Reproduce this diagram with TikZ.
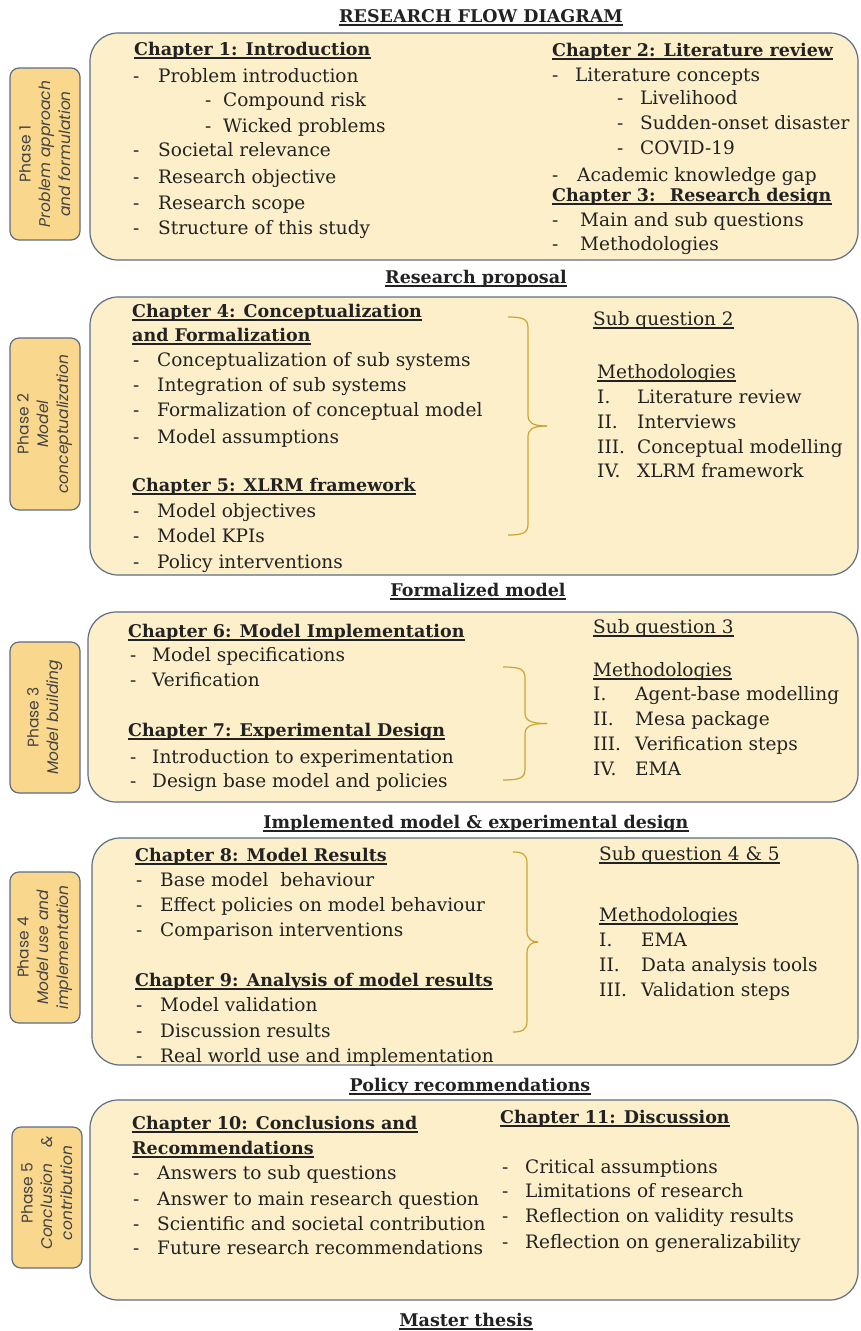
\documentclass[tikz,border=0pt]{standalone}
\usepackage{fontspec}
\setmainfont{DejaVu Serif}
\newfontfamily\phasefont{Poppins}
\usetikzlibrary{fit}
\definecolor{boxfill}{HTML}{FDEFCA}
\definecolor{labfill}{HTML}{F9D88E}
\definecolor{edge}{HTML}{5E6E82}
\definecolor{ink}{HTML}{222222}
\definecolor{bracecol}{HTML}{C9A634}
\tikzset{
  mainbox/.style={draw=edge, fill=boxfill, line width=1.2pt, rounded corners=28pt, inner sep=0pt},
  phasebox/.style={draw=edge, fill=labfill, line width=1.2pt, rounded corners=9pt, inner sep=0pt},
  txt/.style={anchor=base west, inner sep=0pt, text=ink, font=\fontsize{18.5}{22}\selectfont},
  head/.style={txt, font=\bfseries\fontsize{17.5}{22}\selectfont},
  captxt/.style={anchor=base, inner sep=0pt, text=ink, font=\bfseries\fontsize{17.5}{22}\selectfont},
  phasetxt/.style={rotate=90, align=center, text=ink!85, inner sep=0pt,
    font=\phasefont\fontsize{15.5}{20}\selectfont},
  bracket/.style={draw=bracecol, line width=1.2pt},
  uline/.style={draw=ink, line width=1.1pt},
}
% underline below a text node
\newcommand\ulof[1]{\draw[uline] ([yshift=-3pt]#1.base west) -- ([yshift=-3pt]#1.base east);}
% heading: name, x, baseline y, text
\newcommand\hd[4]{\node[head] (#1) at (#2,#3) {#4}; \ulof{#1}}
% list line: name, marker x, text x, baseline y, marker, text
\newcommand\itm[6]{\node[txt] (#1m) at (#2,#4) {#5}; \node[txt] (#1) at (#3,#4) {#6};}
% underlined plain label: name, x, y, text
\newcommand\sq[4]{\node[txt] (#1) at (#2,#3) {#4}; \ulof{#1}}
% centred underlined caption between two phases: name, x, y, text
\newcommand\capt[4]{\node[captxt] (#1) at (#2,#3) {#4}; \ulof{#1}}
% right curly bracket: name, outer x, spine x, tip x, top y, bottom y
\newcommand\brc[6]{%
  \coordinate (#1top) at (#2,#5);
  \coordinate (#1bot) at (#2,#6);
  \coordinate (#1tip) at (#4,{(#5+#6)/2});
  \draw[bracket] (#1top) .. controls (#3-5,#5) and (#3,#5+2) .. (#3,#5+11)
    -- (#3,{(#5+#6)/2-11}) .. controls (#3,{(#5+#6)/2-3}) and (#3+5,{(#5+#6)/2}) .. (#1tip);
  \draw[bracket] (#1bot) .. controls (#3-5,#6) and (#3,#6-2) .. (#3,#6-11)
    -- (#3,{(#5+#6)/2+11}) .. controls (#3,{(#5+#6)/2+3}) and (#3+5,{(#5+#6)/2}) .. (#1tip);
}
\begin{document}
\begin{tikzpicture}[x=1pt,y=-1pt]
\useasboundingbox (0,0) rectangle (860,1331);
\fill[white] (0,0) rectangle (860,1331);

\capt{title}{481}{22}{RESEARCH FLOW DIAGRAM}

% ---------------- Phase 1 ----------------
\node[mainbox, fit={(90,33) (858,260)}] (box1) {};
\node[phasebox, fit={(10,68) (80,240)}] (lab1) {};
\node[phasetxt] (lab1t) at (lab1.center) {Phase 1\\\textit{Problem approach}\\\textit{and formulation}};

\hd{c1}{134}{55}{Chapter 1: Introduction}
\itm{c1a}{133}{158}{82}{-}{Problem introduction}
\itm{c1b}{205}{223}{106}{-}{Compound risk}
\itm{c1c}{205}{223}{132}{-}{Wicked problems}
\itm{c1d}{133}{158}{156}{-}{Societal relevance}
\itm{c1e}{133}{158}{183}{-}{Research objective}
\itm{c1f}{133}{158}{209}{-}{Research scope}
\itm{c1g}{133}{158}{234}{-}{Structure of this study}

\hd{c2}{552}{56}{Chapter 2: Literature review}
\itm{c2a}{552}{575}{81}{-}{Literature concepts}
\itm{c2b}{617}{640}{104}{-}{Livelihood}
\itm{c2c}{617}{640}{129}{-}{Sudden-onset disaster}
\itm{c2d}{617}{640}{154}{-}{COVID-19}
\itm{c2e}{552}{577}{181}{-}{Academic knowledge gap}
\hd{c3}{552}{201}{Chapter 3: \ Research design}
\itm{c3a}{552}{580}{226}{-}{Main and sub questions}
\itm{c3b}{552}{580}{250}{-}{Methodologies}

\capt{out1}{476}{283}{Research proposal}

% ---------------- Phase 2 ----------------
\node[mainbox, fit={(90,297) (858,575)}] (box2) {};
\node[phasebox, fit={(10,338) (80,510)}] (lab2) {};
\node[phasetxt] (lab2t) at (lab2.center) {Phase 2\\\textit{Model}\\\textit{conceptualization}};

\hd{c4}{132}{317}{Chapter 4: Conceptualization}
\hd{c4x}{132}{341}{and Formalization}
\itm{c4a}{133}{157}{366}{-}{Conceptualization of sub systems}
\itm{c4b}{133}{157}{391}{-}{Integration of sub systems}
\itm{c4c}{133}{157}{416}{-}{Formalization of conceptual model}
\itm{c4d}{133}{157}{443}{-}{Model assumptions}
\hd{c5}{132}{491}{Chapter 5: XLRM framework}
\itm{c5a}{133}{157}{517}{-}{Model objectives}
\itm{c5b}{133}{157}{542}{-}{Model KPIs}
\itm{c5c}{133}{157}{568}{-}{Policy interventions}

\brc{br2}{508}{528}{547}{317}{535}
\sq{sq2}{593}{325}{Sub question 2}
\sq{me2}{597}{378}{Methodologies}
\itm{m2a}{597}{637}{403}{I.}{Literature review}
\itm{m2b}{597}{637}{428}{II.}{Interviews}
\itm{m2c}{597}{637}{453}{III.}{Conceptual modelling}
\itm{m2d}{597}{637}{477}{IV.}{XLRM framework}

\capt{out2}{478}{596}{Formalized model}

% ---------------- Phase 3 ----------------
\node[mainbox, fit={(88,612) (858,802)}] (box3) {};
\node[phasebox, fit={(10,642) (80,793)}] (lab3) {};
\node[phasetxt] (lab3t) at (lab3.center) {Phase 3\\\textit{Model building}};

\hd{c6}{128}{637}{Chapter 6: Model Implementation}
\itm{c6a}{130}{152}{661}{-}{Model specifications}
\itm{c6b}{130}{152}{686}{-}{Verification}
\hd{c7}{128}{736}{Chapter 7: Experimental Design}
\itm{c7a}{130}{152}{763}{-}{Introduction to experimentation}
\itm{c7b}{130}{152}{787}{-}{Design base model and policies}

\brc{br3}{503}{525}{547}{667}{780}
\sq{sq3}{593}{633}{Sub question 3}
\sq{me3}{593}{676}{Methodologies}
\itm{m3a}{593}{635}{700}{I.}{Agent-base modelling}
\itm{m3b}{593}{635}{725}{II.}{Mesa package}
\itm{m3c}{593}{635}{750}{III.}{Verification steps}
\itm{m3d}{593}{635}{775}{IV.}{EMA}

\capt{out3}{476}{828}{Implemented model \& experimental design}

% ---------------- Phase 4 ----------------
\node[mainbox, fit={(92,838) (858,1065)}] (box4) {};
\node[phasebox, fit={(10,872) (80,1023)}] (lab4) {};
\node[phasetxt] (lab4t) at (lab4.center) {Phase 4\\\textit{Model use and}\\\textit{implementation}};

\hd{c8}{135}{861}{Chapter 8: Model Results}
\itm{c8a}{136}{160}{886}{-}{Base model\ \ behaviour}
\itm{c8b}{136}{160}{911}{-}{Effect policies on model behaviour}
\itm{c8c}{136}{160}{936}{-}{Comparison interventions}
\hd{c9}{135}{986}{Chapter 9: Analysis of model results}
\itm{c9a}{136}{160}{1011}{-}{Model validation}
\itm{c9b}{136}{160}{1037}{-}{Discussion results}
\itm{c9c}{136}{160}{1062}{-}{Real world use and implementation}

\brc{br4}{513}{527}{538}{852}{1032}
\sq{sq4}{599}{860}{Sub question 4 \& 5}
\sq{me4}{599}{921}{Methodologies}
\itm{m4a}{599}{641}{946}{I.}{EMA}
\itm{m4b}{599}{641}{971}{II.}{Data analysis tools}
\itm{m4c}{599}{641}{996}{III.}{Validation steps}

\capt{out4}{470}{1091}{Policy recommendations}

% ---------------- Phase 5 ----------------
\node[mainbox, fit={(90,1100) (858,1300)}] (box5) {};
\node[phasebox, fit={(12,1127) (82,1268)}] (lab5) {};
\node[phasetxt] (lab5t) at (47,1193) {Phase 5\\\textit{Conclusion\quad\&}\\\textit{contribution}};

\hd{c10}{132}{1129}{Chapter 10: Conclusions and}
\hd{c10x}{132}{1154}{Recommendations}
\itm{c10a}{133}{157}{1179}{-}{Answers to sub questions}
\itm{c10b}{133}{157}{1205}{-}{Answer to main research question}
\itm{c10c}{133}{157}{1230}{-}{Scientific and societal contribution}
\itm{c10d}{133}{157}{1254}{-}{Future research recommendations}

\hd{c11}{500}{1123}{Chapter 11: Discussion}
\itm{c11a}{502}{525}{1173}{-}{Critical assumptions}
\itm{c11b}{502}{525}{1197}{-}{Limitations of research}
\itm{c11c}{502}{525}{1222}{-}{Reflection on validity results}
\itm{c11d}{502}{525}{1248}{-}{Reflection on generalizability}

\capt{out5}{466}{1326}{Master thesis}
\end{tikzpicture}
\end{document}
